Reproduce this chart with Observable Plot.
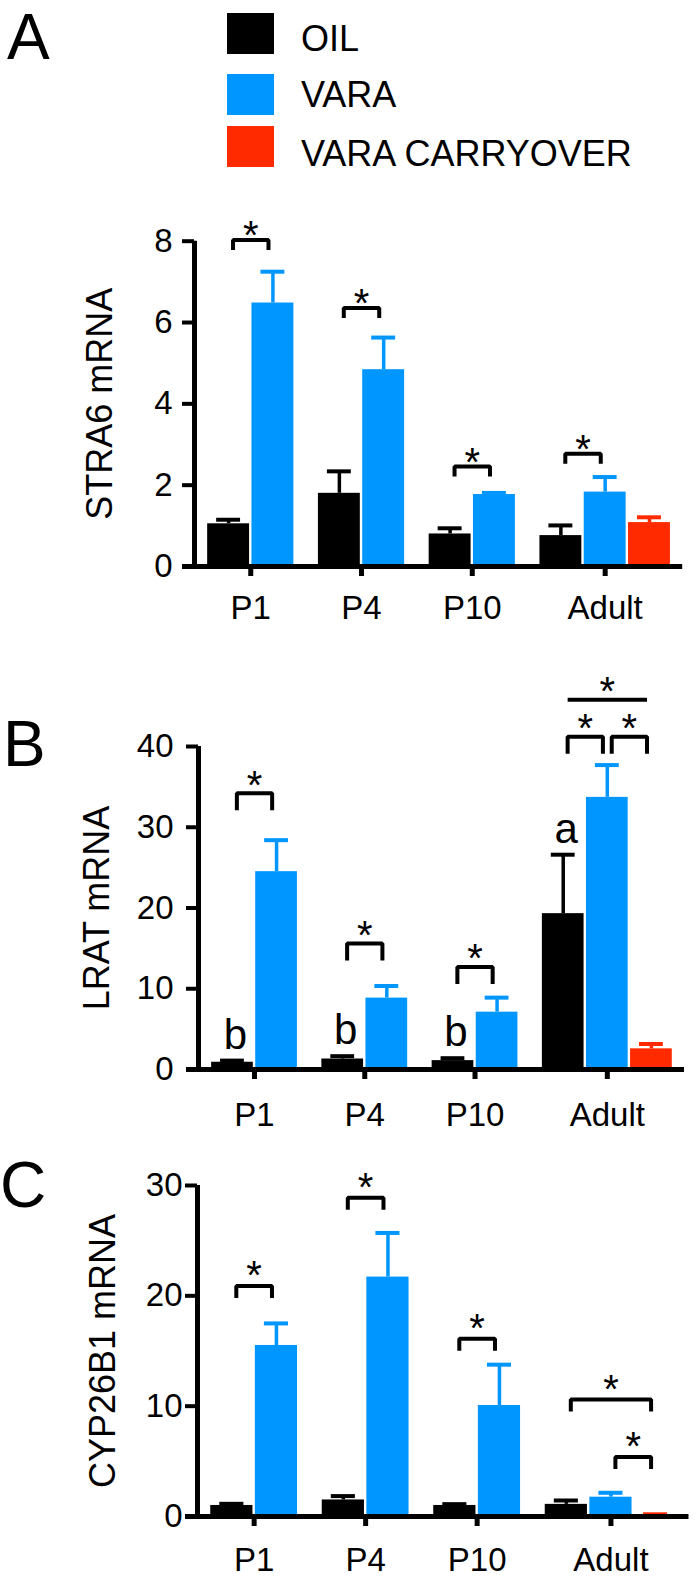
<!DOCTYPE html>
<html><head><meta charset="utf-8">
<script src="https://cdn.jsdelivr.net/npm/d3@7"></script>
<script src="https://cdn.jsdelivr.net/npm/@observablehq/plot@0.6"></script>
<style>
body{margin:0;background:#fff;font-family:"Liberation Sans",Arial,sans-serif;}
#root{position:relative;width:700px;height:1578px;overflow:hidden;background:#fff;color:#000}
.abs{position:absolute;white-space:nowrap}
.letter{font-size:64px;line-height:64px;}
.legtext{font-size:36px;line-height:36px;}
</style></head><body><div id="root"></div>
<script>
// ---- categories ----
const groups = ["P1", "P4", "P10", "Adult"];
const treatments = ["OIL", "VARA", "VARA CARRYOVER"];
const treatmentColors = ["#000000", "#0096ff", "#ff2a00"];

// ---- A: STRA6 mRNA (mean, SEM) ----
const stra6Oil = [1.05, 1.80, 0.80, 0.76];
const stra6OilSem = [0.10, 0.54, 0.14, 0.25];
const stra6Vara = [6.48, 4.84, 1.77, 1.83];
const stra6VaraSem = [0.77, 0.79, 0.04, 0.37];
const stra6Carry = [null, null, null, 1.08];
const stra6CarrySem = [null, null, null, 0.13];
const stra6Ticks = [0, 2, 4, 6, 8];
const stra6Brackets = [["P1", "OIL", "VARA", 8.03], ["P4", "OIL", "VARA", 6.36], ["P10", "OIL", "VARA", 2.46], ["Adult", "OIL", "VARA", 2.77]];

// ---- B: LRAT mRNA ----
const lratOil = [0.9, 1.3, 1.1, 19.3];
const lratOilSem = [0.2, 0.35, 0.3, 7.3];
const lratVara = [24.5, 8.84, 7.1, 33.7];
const lratVaraSem = [3.9, 1.5, 1.8, 4.0];
const lratCarry = [null, null, null, 2.56];
const lratCarrySem = [null, null, null, 0.6];
const lratTicks = [0, 10, 20, 30, 40];
const lratBrackets = [["P1", "OIL", "VARA", 34.2], ["P4", "OIL", "VARA", 15.6], ["P10", "OIL", "VARA", 12.7],
  ["Adult", "OIL", "VARA", 41.2], ["Adult", "VARA", "VARA CARRYOVER", 41.2], ["Adult", "OIL", "VARA CARRYOVER", 45.8, false]];
const lratLetters = [["P1", "OIL", "b"], ["P4", "OIL", "b"], ["P10", "OIL", "b"], ["Adult", "OIL", "a"]];

// ---- C: CYP26B1 mRNA ----
const cypOil = [1.0, 1.5, 1.0, 1.1];
const cypOilSem = [0.15, 0.35, 0.12, 0.35];
const cypVara = [15.5, 21.7, 10.06, 1.75];
const cypVaraSem = [2.0, 4.0, 3.7, 0.4];
const cypCarry = [null, null, null, 0.15];
const cypCarrySem = [null, null, null, 0.05];
const cypTicks = [0, 10, 20, 30];
const cypBrackets = [["P1", "OIL", "VARA", 20.9], ["P4", "OIL", "VARA", 28.9], ["P10", "OIL", "VARA", 16.1],
  ["Adult", "OIL", "VARA CARRYOVER", 10.6], ["Adult", "VARA", "VARA CARRYOVER", 5.4]];

// ---- layout helpers ----
const FONT = '"Liberation Sans", Arial, sans-serif';
const GROUP_GAP = 0.5, SHRINK = 0.1, CAP = 0.27;
const X_DOMAIN = [-0.27, 10.75];

function buildBars(means, sems) {
  const bars = [], centers = [];
  let start = 0;
  groups.forEach((g, gi) => {
    let k = 0;
    treatments.forEach((t, ti) => {
      const v = means[ti][gi];
      if (v == null) return;
      bars.push({group: g, treatment: t, x1: start + k, x2: start + k + 1, xc: start + k + 0.5, mean: v, top: v + sems[ti][gi]});
      k++;
    });
    centers.push(start + k / 2);
    start += k + GROUP_GAP;
  });
  return {bars, centers};
}

function panel(cfg) {
  const {bars, centers} = buildBars(cfg.means, cfg.sems);
  const find = (g, t) => bars.find(b => b.group === g && b.treatment === t);
  const plotH = cfg.height - cfg.marginTop - cfg.marginBottom;
  const legU = cfg.legPx * cfg.yMax / plotH;
  const pts = [], stars = [];
  cfg.brackets.forEach(([g, a, b, level, legs = true], i) => {
    const xa = find(g, a).xc + SHRINK, xb = find(g, b).xc - SHRINK;
    if (legs) pts.push({id: i, x: xa, y: level - legU});
    pts.push({id: i, x: xa, y: level}, {id: i, x: xb, y: level});
    if (legs) pts.push({id: i, x: xb, y: level - legU});
    stars.push({x: (xa + xb) / 2, y: level});
  });
  const letters = (cfg.letters || []).map(([g, t, s]) => { const b = find(g, t); return {x: b.xc, y: b.top, s}; });
  return Plot.plot({
    width: 700, height: cfg.height,
    marginLeft: cfg.axisX, marginRight: cfg.marginRight, marginTop: cfg.marginTop, marginBottom: cfg.marginBottom,
    x: {domain: X_DOMAIN},
    y: {domain: [0, cfg.yMax]},
    color: {domain: treatments, range: treatmentColors},
    style: {fontFamily: FONT, color: "#000", background: "transparent", overflow: "visible"},
    marks: [
      Plot.rect(bars, {x1: "x1", x2: "x2", y1: 0, y2: "mean", fill: "treatment", insetLeft: 1.2, insetRight: 1.2}),
      Plot.ruleX(bars, {x: "xc", y1: "mean", y2: "top", stroke: "treatment", strokeWidth: 3.5}),
      Plot.ruleY(bars, {y: "top", x1: d => d.xc - CAP, x2: d => d.xc + CAP, stroke: "treatment", strokeWidth: 4}),
      Plot.line(pts, {x: "x", y: "y", z: "id", stroke: "#000", strokeWidth: 4, strokeLinejoin: "miter", strokeLinecap: "butt", curve: "linear"}),
      Plot.text(stars, {x: "x", y: "y", text: () => "*", fontSize: 40, lineAnchor: "bottom", dy: 0.58 * 40 - cfg.starGap, fill: "#000"}),
      Plot.text(letters, {x: "x", y: "y", text: "s", fontSize: 42, lineAnchor: "bottom", dy: -12, dx: 3, fill: "#000"}),
      Plot.ruleY([0], {stroke: "#000", strokeWidth: 5, insetLeft: -12}),
      Plot.ruleX([X_DOMAIN[0]], {y1: 0, y2: cfg.yMax, stroke: "#000", strokeWidth: 5, insetTop: -2}),
      Plot.axisY({ticks: cfg.ticks, tickSize: 12, tickPadding: cfg.tickPadY, fontSize: 33, strokeWidth: 4, label: null}),
      Plot.axisX({ticks: centers, tickFormat: d => groups[centers.indexOf(d)], tickSize: 10, tickPadding: cfg.tickPadX, fontSize: 33, strokeWidth: 5, label: null}),
      Plot.text([cfg.label], {text: d => d, frameAnchor: "left", rotate: -90, fontSize: 36, lineAnchor: "bottom", textAnchor: "middle", dx: cfg.labelDx, fill: "#000"})
    ]
  });
}

const root = document.getElementById("root");
function place(el, top) { el.style.position = "absolute"; el.style.left = "0px"; el.style.top = top + "px"; root.appendChild(el); }

place(panel({height: 470, marginTop: 70.7, marginBottom: 74, axisX: 194, marginRight: 17.8, yMax: 8, ticks: stra6Ticks,
  means: [stra6Oil, stra6Vara, stra6Carry], sems: [stra6OilSem, stra6VaraSem, stra6CarrySem],
  brackets: stra6Brackets, legPx: 10, starGap: 14, tickPadY: 10, tickPadX: 18.6, label: "STRA6 mRNA", labelDx: -83}), 170);

place(panel({height: 510, marginTop: 106, marginBottom: 81, axisX: 198, marginRight: 16, yMax: 40, ticks: lratTicks,
  means: [lratOil, lratVara, lratCarry], sems: [lratOilSem, lratVaraSem, lratCarrySem],
  brackets: lratBrackets, letters: lratLetters, legPx: 17, starGap: 18, tickPadY: 13, tickPadX: 22.6, label: "LRAT mRNA", labelDx: -90}), 640);

place(panel({height: 428, marginTop: 35, marginBottom: 62, axisX: 197, marginRight: 11.5, yMax: 30, ticks: cypTicks,
  means: [cypOil, cypVara, cypCarry], sems: [cypOilSem, cypVaraSem, cypCarrySem],
  brackets: cypBrackets, legPx: 12, starGap: 20, tickPadY: 3, tickPadX: 20.6, label: "CYP26B1 mRNA", labelDx: -83}), 1150);

// ---- panel letters ----
[["A", 7, 4.5], ["B", 3, 712], ["C", 0, 1153]].forEach(([t, x, y]) => {
  const d = document.createElement("div"); d.className = "abs letter"; d.textContent = t;
  d.style.left = x + "px"; d.style.top = y + "px"; root.appendChild(d);
});

// ---- legend ----
const legTops = [13, 74, 126], legTextTops = [20.5, 76.5, 135.5];
treatments.forEach((t, i) => {
  const sw = document.createElement("div"); sw.className = "abs";
  Object.assign(sw.style, {left: "227px", top: legTops[i] + "px", width: "47px", height: "41px", background: treatmentColors[i]});
  root.appendChild(sw);
  const tx = document.createElement("div"); tx.className = "abs legtext"; tx.textContent = t;
  Object.assign(tx.style, {left: "301px", top: legTextTops[i] + "px"});
  root.appendChild(tx);
});
</script></body></html>
